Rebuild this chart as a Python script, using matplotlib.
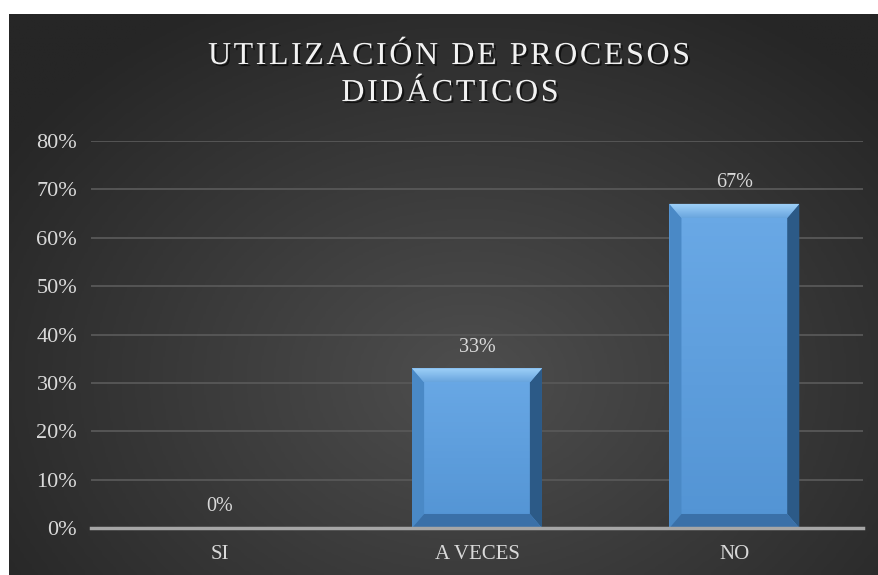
import numpy as np
import matplotlib
matplotlib.use("Agg")
import matplotlib.pyplot as plt
from matplotlib.patches import Polygon
from matplotlib.colors import LinearSegmentedColormap
import matplotlib.patheffects as pe

# ============================================================
# DATOS
# ============================================================

categorias = ["SI", "A VECES", "NO"]
porcentajes = [0.0, 0.33, 0.67]
etiquetas = ["0%", "33%", "67%"]
ticks_y = [0.0, 0.1, 0.2, 0.3, 0.4, 0.5, 0.6, 0.7, 0.8]
titulo = ["UTILIZACIÓN DE PROCESOS", "DIDÁCTICOS"]

texto = "#d9d9d9"
plt.rcParams['font.family'] = ['Liberation Serif', 'DejaVu Serif']

W, H = 879, 575
fig = plt.figure(figsize=(W / 100, H / 100), dpi=100)
fig.patch.set_facecolor("white")

# ============================================================
# FONDO CON DEGRADADO RADIAL
# ============================================================

bg = fig.add_axes([0, 0, 1, 1])
bg.set_xlim(0, W)
bg.set_ylim(H, 0)
bg.axis("off")

gx, gy = np.meshgrid(np.linspace(9, W, 300), np.linspace(14, H, 200))
dist = np.sqrt(((gx - 470) / 560) ** 2 + ((gy - 380) / 430) ** 2)
dist = np.clip(dist, 0, 1)
fondo = LinearSegmentedColormap.from_list("fondo", ["#4e4e4e", "#3a3a3a", "#262626"])
bg.imshow(dist, cmap=fondo, extent=[9, W, H, 14], aspect="auto", vmin=0, vmax=1)

# ============================================================
# TÍTULO CON ESPACIADO ENTRE LETRAS
# ============================================================

renderer = fig.canvas.get_renderer()
sombra = [pe.withSimplePatchShadow(offset=(1.5, -1.5), shadow_rgbFace="black", alpha=0.6)]


def texto_espaciado(cadena, xc, base, espacio, size):
    anchos = []
    for ch in cadena:
        t = bg.text(0, 0, ch, fontsize=size)
        anchos.append(t.get_window_extent(renderer).width)
        t.remove()
    total = sum(anchos) + espacio * (len(cadena) - 1)
    xi = xc - total / 2
    for ch, w in zip(cadena, anchos):
        bg.text(xi, base, ch, fontsize=size, color="#f2f2f2", ha="left",
                va="baseline", path_effects=sombra)
        xi += w + espacio


texto_espaciado(titulo[0], 449, 64, 2.6, 23)
texto_espaciado(titulo[1], 450, 101, 2.6, 23)

# ============================================================
# GRÁFICO DE BARRAS
# ============================================================

ax = fig.add_axes([91 / W, (H - 528) / H, (863 - 91) / W, (528 - 141) / H])
ax.patch.set_alpha(0)

x = np.arange(len(categorias))
barras = ax.bar(x, porcentajes, width=0.505, color="#5b9bd5", zorder=3)

ax.set_xlim(-0.5, len(categorias) - 0.5)
ax.set_ylim(0, 0.8)
ax.set_yticks(ticks_y)
ax.set_yticklabels([f"{int(round(t * 100))}%" for t in ticks_y])
ax.set_xticks(x)
ax.set_xticklabels(categorias)
ax.tick_params(axis="y", colors=texto, labelsize=16, length=0, pad=10)
ax.tick_params(axis="x", colors=texto, labelsize=15, length=0, pad=12)

ax.grid(axis="y", color="#585858", linewidth=1.3, zorder=0)
for s in ["top", "right", "left"]:
    ax.spines[s].set_visible(False)
ax.spines["bottom"].set_color("#a6a6a6")
ax.spines["bottom"].set_linewidth(2.5)
ax.spines["bottom"].set_zorder(5)

# ============================================================
# BISEL DE LAS BARRAS
# ============================================================

dx = 0.047
dy = 0.029
degradado = LinearSegmentedColormap.from_list("barra", ["#5394d4", "#6aa9e6"])
bisel_sup = LinearSegmentedColormap.from_list("bsup", ["#6aa6de", "#a0d2fa"])
for b in barras:
    x0, y0 = b.get_x(), b.get_y()
    x1, y1 = x0 + b.get_width(), y0 + b.get_height()
    if b.get_height() <= 0:
        continue
    img = ax.imshow(np.linspace(0, 1, 50).reshape(-1, 1), cmap=degradado,
                    extent=[x0, x1, y0, y1], aspect="auto", origin="lower", zorder=3.5)
    img.set_clip_path(b)
    caras = [
        ([(x0, y0), (x0, y1), (x0 + dx, y1 - dy), (x0 + dx, y0 + dy)], "#4a89c6"),
        ([(x1, y0), (x1, y1), (x1 - dx, y1 - dy), (x1 - dx, y0 + dy)], "#2c5a87"),
        ([(x0, y0), (x1, y0), (x1 - dx, y0 + dy), (x0 + dx, y0 + dy)], "#3a70a8"),
    ]
    for pts, c in caras:
        ax.add_patch(Polygon(pts, closed=True, facecolor=c, edgecolor="none", zorder=4))
    sup = Polygon([(x0, y1), (x1, y1), (x1 - dx, y1 - dy), (x0 + dx, y1 - dy)],
                  closed=True, facecolor="none", edgecolor="none", zorder=4)
    ax.add_patch(sup)
    img2 = ax.imshow(np.linspace(0, 1, 30).reshape(-1, 1), cmap=bisel_sup,
                     extent=[x0, x1, y1, y1 - dy], aspect="auto", origin="upper", zorder=4.1)
    img2.set_clip_path(sup)

for xi, v, lab in zip(x, porcentajes, etiquetas):
    ax.annotate(lab, (xi, v), xytext=(0, 8.5), textcoords="offset points",
                ha="center", va="bottom", fontsize=14.5, color=texto, zorder=6)

fig.savefig("out.png", dpi=100)
